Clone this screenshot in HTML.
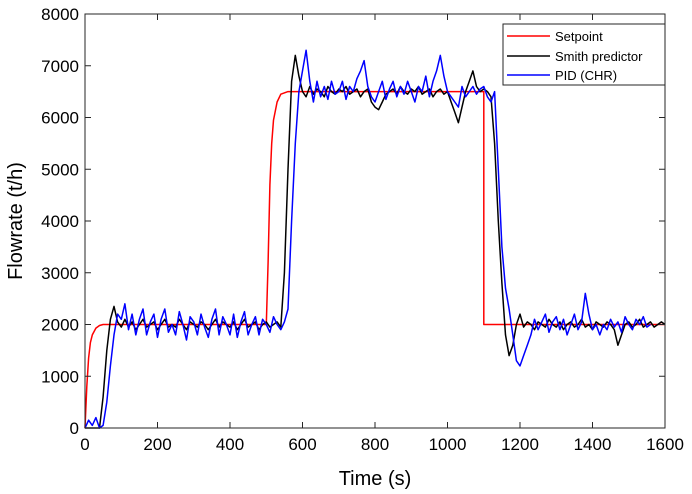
<!DOCTYPE html>
<html><head><meta charset="utf-8"><style>
body{margin:0;background:#fff;}
svg{display:block;font-family:"Liberation Sans",Arial,sans-serif;}
</style></head><body>
<svg id="chart" width="692" height="494"></svg>
<script>
const xTicks=[0,200,400,600,800,1000,1200,1400,1600];
const yTicks=[0,1000,2000,3000,4000,5000,6000,7000,8000];
const spT=[0,5,10,15,20,30,40,50,500,505,510,515,520,530,540,560,1100,1100,1600];
const spV=[0,800,1350,1650,1800,1930,1980,2000,2000,3200,4700,5500,5950,6300,6450,6500,6500,2000,2000];
const step=10;
const smith=[0,0,0,0,0,600,1500,2100,2350,2050,1950,2100,1950,2050,1900,2000,2100,1950,2000,2050,1900,2000,2100,1950,2000,1950,2100,2000,1900,2050,2000,1950,2050,2000,1900,2000,2100,1950,2050,2000,1950,2050,1900,2000,2100,1950,2000,2050,1900,2000,2050,1950,2000,2050,1950,3000,5000,6700,7200,6800,6500,6400,6600,6450,6550,6500,6400,6600,6500,6450,6550,6500,6600,6450,6500,6550,6400,6500,6550,6300,6200,6150,6300,6450,6500,6550,6450,6600,6500,6450,6550,6500,6600,6450,6500,6550,6400,6500,6550,6450,6500,6300,6100,5900,6200,6500,6700,6900,6600,6500,6550,6500,6400,5500,4000,2800,1800,1400,1600,2000,2200,1950,2050,2000,1900,2050,2000,1950,2100,2000,1950,2050,1900,2000,2050,1950,2000,2100,1950,2000,1900,2050,2000,1950,2050,2000,1900,1600,1800,2000,2050,1950,2000,2100,1950,2000,2050,1950,2000,2050,2000];
const pid=[0,150,50,200,0,50,500,1200,1800,2200,2100,2400,1900,2200,1800,2100,2300,1800,2050,2200,1750,2100,2300,1850,2000,1800,2250,2000,1700,2150,2050,1800,2200,1950,1750,2100,2300,1800,2150,2000,1800,2200,1750,2050,2250,1800,2000,2150,1800,2100,2000,1850,2150,2000,1900,2050,2300,4000,5500,6500,6900,7300,6700,6300,6700,6400,6600,6350,6700,6450,6500,6700,6350,6600,6500,6750,6900,7100,6600,6400,6300,6500,6700,6350,6550,6700,6400,6600,6450,6700,6500,6300,6600,6500,6800,6400,6700,6900,7200,6800,6500,6400,6300,6200,6600,6400,6500,6600,6450,6550,6600,6400,6300,6500,5000,3500,2700,2300,1800,1300,1200,1400,1600,1800,2100,1900,2050,2200,1850,2050,2150,1900,2100,1800,2000,2200,1900,2050,2600,2200,1900,2000,1800,2000,1900,2100,1950,2050,1850,2150,2000,1900,2100,2000,2150,1950,2000];
const L=85,R=665,T=14,B=428;
const sx=v=>L+(v-0)/1600*(R-L), sy=v=>B-v/8000*(B-T);
const svg=document.getElementById('chart');const NS='http://www.w3.org/2000/svg';
function mk(t,a,p){const e=document.createElementNS(NS,t);for(const k in a)e.setAttribute(k,a[k]);(p||svg).appendChild(e);return e;}
const bg=mk('rect',{x:L,y:T,width:R-L,height:B-T,fill:'#fff'});


function line(xs,ys,col,name){const d=xs.map((x,i)=>(i?'L':'M')+sx(x).toFixed(1)+','+sy(ys[i]).toFixed(1)).join('');const p=mk('path',{d:d,fill:'none',stroke:col,'stroke-width':1.5,'stroke-linejoin':'round'});

}
line(spT,spV,'#ff0000','setpoint-line');
line(smith.map((_,i)=>i*step),smith,'#000','smith-predictor-line');
line(pid.map((_,i)=>i*step),pid,'#0000ff','pid-chr-line');
const fr=mk('rect',{x:L,y:T,width:R-L,height:B-T,fill:'none',stroke:'#262626','stroke-width':1});


xTicks.forEach(v=>{const x=sx(v);mk('line',{x1:x,x2:x,y1:B,y2:B-6,stroke:'#262626'});mk('line',{x1:x,x2:x,y1:T,y2:T+6,stroke:'#262626'});
const t=mk('text',{x:x,y:B+22,'text-anchor':'middle','font-size':17,fill:'#000'});t.textContent=v;

});
yTicks.forEach(v=>{const y=sy(v);mk('line',{x1:L,x2:L+6,y1:y,y2:y,stroke:'#262626'});mk('line',{x1:R,x2:R-6,y1:y,y2:y,stroke:'#262626'});
const t=mk('text',{x:L-6,y:y+6,'text-anchor':'end','font-size':17,fill:'#000'});t.textContent=v;

});
const xt=mk('text',{x:(L+R)/2,y:485,'text-anchor':'middle','font-size':20,fill:'#000'});xt.textContent='Time (s)';


const yt=mk('text',{x:0,y:0,'text-anchor':'middle','font-size':20,fill:'#000',transform:'translate(22,'+((T+B)/2)+') rotate(-90)'});yt.textContent='Flowrate (t/h)';


const lg=mk('g',{});


mk('rect',{x:503,y:24,width:162,height:61,fill:'#fff',stroke:'#262626','stroke-width':1},lg);
[['Setpoint','#ff0000',36],['Smith predictor','#000',56],['PID (CHR)','#0000ff',75]].forEach(e=>{
mk('line',{x1:507,x2:550,y1:e[2],y2:e[2],stroke:e[1],'stroke-width':1.5},lg);
const t=mk('text',{x:555,y:e[2]+5,'font-size':13,fill:'#000'},lg);t.textContent=e[0];

});
</script>
</body></html>
